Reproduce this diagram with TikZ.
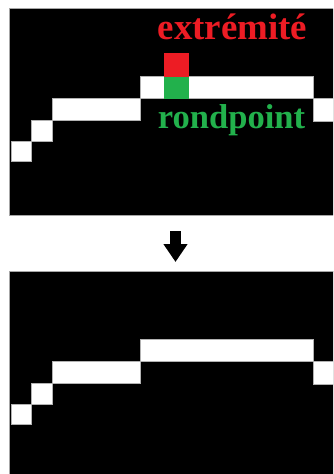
\documentclass[tikz,border=0pt]{standalone}
\usepackage{fontspec}
\setmainfont{Liberation Serif}
\usetikzlibrary{arrows.meta}
\definecolor{paintred}{HTML}{ED1C24}
\definecolor{paintgreen}{HTML}{22B14C}

\begin{document}
\begin{tikzpicture}[
    x=0.3mm, y=-0.3mm,
    panel/.style={fill=black, draw=gray!70, line width=0.3mm},
    pixel/.style={fill=white, draw=gray!60, line width=0.3mm},
    pixtext/.style={font=\bfseries\fontsize{31}{31}\selectfont, anchor=base, inner sep=0pt},
    bigarrow/.style={-{Triangle[width=6.9mm,length=5.4mm]}, line width=3.3mm}
]
\clip (0,0) rectangle (333,474);
\fill[white] (0,0) rectangle (333,474);

% Panels: before (top) and after (bottom)
\foreach \dy in {0,262} {
  \draw[panel] (9,9+\dy) rectangle (340,215+\dy);
  \draw[pixel] (11,142+\dy) rectangle (31,162+\dy);
  \draw[pixel] (31,121+\dy) rectangle (52,142+\dy);
  \draw[pixel] (52,99+\dy) rectangle (140,121+\dy);
  \draw[pixel] (140,77+\dy) rectangle (313,99+\dy);
  \draw[pixel] (313,99+\dy) rectangle (340,122+\dy);
}

% Marked pixels
\fill[paintred] (164,53) rectangle (189,77);
\fill[paintgreen] (164,77) rectangle (189,99);

% Labels
\node (extremite) [pixtext, text=paintred, font=\bfseries\fontsize{31.5}{31.5}\selectfont] at (232.5,40) {extrémité};
\node (rondpoint) [pixtext, text=paintgreen, font=\bfseries\fontsize{29.5}{29.5}\selectfont] at (231.5,129) {rondpoint};

% Arrow between panels
\coordinate (arrowtop) at (175.5,231);
\coordinate (arrowtip) at (175.5,262);
\draw[bigarrow] (arrowtop) -- (arrowtip);

\end{tikzpicture}
\end{document}
